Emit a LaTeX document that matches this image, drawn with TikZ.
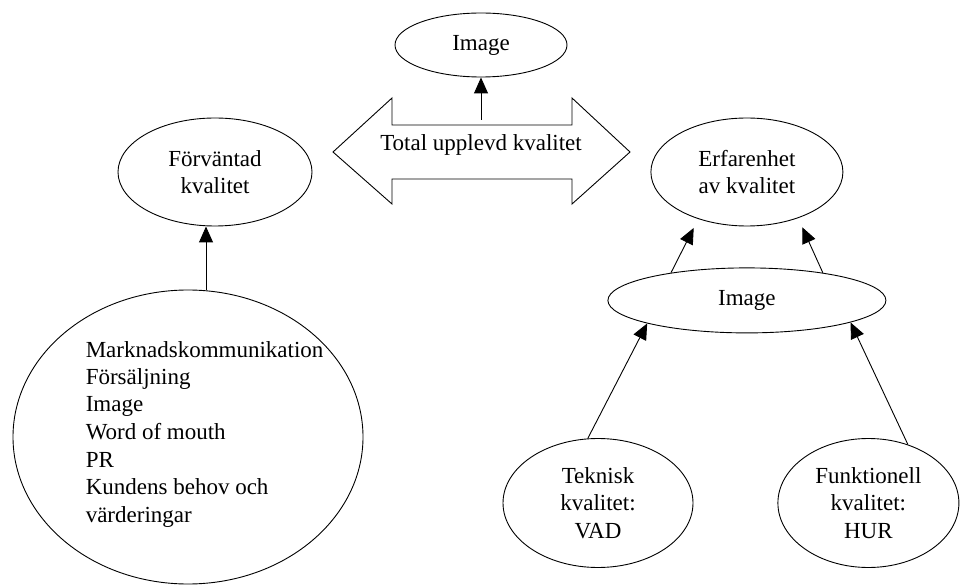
\documentclass[tikz,border=0pt]{standalone}
\usepackage{fontspec}
\setmainfont{Liberation Serif}
\usepackage{tikz}
\usetikzlibrary{arrows.meta,positioning,shapes.geometric}

\begin{document}
\begin{tikzpicture}[
  x=1pt,y=1pt,
  >={Triangle[length=16pt,width=14pt]},
  line width=0.9pt,
  txt/.style={font=\fontsize{23}{27.5}\selectfont},
  oval/.style={draw,ellipse,inner sep=0pt,align=center,txt}
]
\useasboundingbox (0,0) rectangle (960,584);
\node[oval,minimum width=172pt,minimum height=64pt] (imgtop) at (481,539) {Image};
\node[oval,minimum width=194pt,minimum height=108pt] (forv) at (215,412) {Förväntad\\kvalitet};
\node[oval,minimum width=192pt,minimum height=108pt,right=338pt of forv] (erf) {Erfarenhet\\av kvalitet};
\node[oval,minimum width=278pt,minimum height=65pt,below=41pt of erf] (imgmid) {Image};
\node[oval,minimum width=190pt,minimum height=129pt] (tek) at (598,81) {Teknisk\\kvalitet:\\VAD};
\node[oval,minimum width=181pt,minimum height=129pt,right=84pt of tek] (funk) {Funktionell\\kvalitet:\\HUR};
\node[oval,minimum width=350pt,minimum height=294pt] (kalla) at (188,147) {};
\node[txt,align=left,anchor=west] (kallatxt) at (82,150) {Marknadskommunikation\\Försäljning\\Image\\Word of mouth\\PR\\Kundens behov och\\värderingar};
% dubbelpilen
\draw (333,432) -- (392,486) -- (392,459) -- (572,459) -- (572,486) -- (630,432)
  -- (572,380) -- (572,405) -- (392,405) -- (392,380) -- cycle;
\node[txt] (total) at (481,439) {Total upplevd kvalitet};
\coordinate (skaft) at (481,464);
\draw[->] (skaft) -- (imgtop);
\draw[->] (kalla.83) -- (kalla.83 |- forv.south);
\draw[->,shorten >=10pt] (imgmid.160) -- (erf.224);
\draw[->,shorten >=10pt] (imgmid.20) -- (erf.318);
\draw[->] (tek.99) -- (imgmid.193);
\draw[->] (funk.56) -- (imgmid.348);
\end{tikzpicture}
\end{document}
